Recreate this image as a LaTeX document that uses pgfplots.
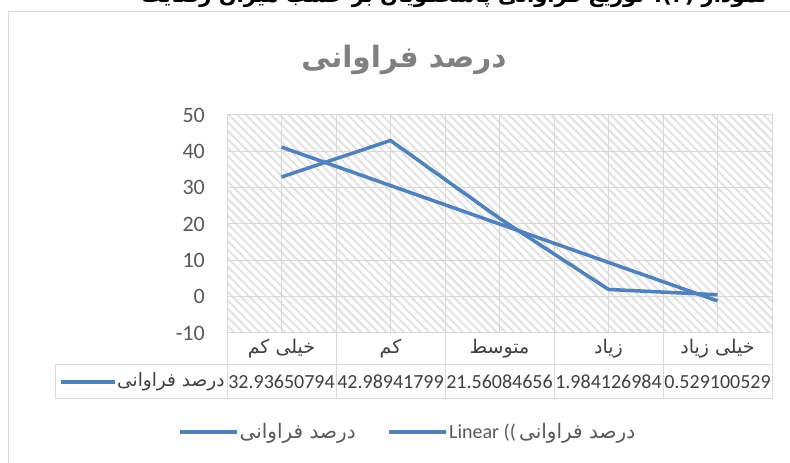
\documentclass[border=0pt]{standalone}
\usepackage{fontspec}
\setmainfont{Carlito}
\newfontfamily\ar[Script=Arabic]{DejaVu Sans}
\TeXXeTstate=1
\usepackage{pgfplots}
\pgfplotsset{compat=1.18}
\usetikzlibrary{patterns.meta}
\definecolor{lineblue}{RGB}{79,129,189}
\definecolor{gridgray}{RGB}{217,217,217}
\definecolor{hatchgray}{RGB}{226,226,226}
\definecolor{txtgray}{RGB}{89,89,89}
\definecolor{titlegray}{RGB}{128,128,128}
\definecolor{dark}{RGB}{64,64,64}
\begin{document}
\begin{tikzpicture}[x=1pt,y=1pt]
\useasboundingbox (0,0) rectangle (790,463);
\clip (0,0) rectangle (790,463);
\fill[white] (0,0) rectangle (790,463);
\draw[gridgray, line width=1pt] (8,-5) -- (8,451) -- (795,451);
\node[anchor=base, font=\ar\bfseries\fontsize{21}{25}\selectfont, text=black] at (454,460) {\beginR نمودار (۴): توزیع فراوانی پاسخگویان بر حسب میزان رضایت\endR};
\node[font=\ar\bfseries\fontsize{29.5}{35}\selectfont, text=titlegray] at (404,403) {\beginR درصد فراوانی\endR};
\begin{axis}[
  at={(227pt,130pt)}, anchor=south west,
  scale only axis, width=545pt, height=218pt,
  xmin=-0.5, xmax=4.5, ymin=-10, ymax=50,
  xtick={0,1,2,3,4}, minor xtick={-0.5,0.5,1.5,2.5,3.5,4.5},
  ytick={-10,0,10,20,30,40,50}, yticklabels={-10,0,10,20,30,40,50},
  xticklabels={{\beginR خیلی کم\endR},{\beginR کم\endR},{\beginR متوسط\endR},{\beginR زیاد\endR},{\beginR خیلی زیاد\endR}},
  grid=both,
  major grid style={gridgray, line width=1pt},
  minor grid style={gridgray, line width=1pt},
  major tick length=0pt, minor tick length=0pt,
  axis line style={gridgray, line width=1pt},
  axis background/.style={pattern={Lines[angle=-45,distance=6pt,line width=2pt]}, pattern color=hatchgray},
  yticklabel style={font=\fontsize{22}{26}\selectfont, text=txtgray, anchor=east, inner sep=0pt, xshift=-22pt},
  xticklabel style={font=\ar\fontsize{19}{22}\selectfont, text=dark, anchor=center, inner sep=0pt, yshift=-16pt},
  clip=false,
  legend columns=2,
  legend image code/.code={\draw[#1] (0pt,0pt) -- (57pt,0pt);},
  legend style={at={(-0.0899,-0.454)}, anchor=west, draw=none, fill=none, inner sep=0pt,
    font=\fontsize{20}{24}\selectfont, text=txtgray,
    nodes={inner sep=1pt},
    /tikz/every even column/.append style={column sep=31pt}},
]
\addplot[lineblue, line width=3.5pt, line join=round] coordinates {(0,32.93650794) (1,42.98941799) (2,21.56084656) (3,1.984126984) (4,0.529100529)};
\addlegendentry{{\ar\beginR درصد فراوانی\endR}}
\addplot[lineblue, line width=3.5pt, line join=round] coordinates {(0,41.164) (1,30.582) (2,20.000) (3,9.418) (4,-1.164)};
\addlegendentry{Linear ((\,{\ar\beginR درصد فراوانی\endR}}
\end{axis}
% data table
\begin{scope}[gridgray, line width=1pt]
\draw (55,98) -- (772,98);
\draw (55,64) -- (772,64);
\draw (55,98) -- (55,64);
\foreach \x in {227,336,445,554,663,772} {\draw (\x,130) -- (\x,64);}
\end{scope}
\draw[lineblue, line width=3.5pt] (61,81) -- (115,81);
\node[anchor=west, font=\ar\fontsize{18.5}{22}\selectfont, text=dark, inner sep=0pt] at (117,81) {\beginR درصد فراوانی\endR};
\begin{scope}[font=\fontsize{20}{24}\selectfont, text=dark]
\node at (281.5,81) {32.93650794};
\node at (390.5,81) {42.98941799};
\node at (499.5,81) {21.56084656};
\node at (608.5,81) {1.984126984};
\node at (717.5,81) {0.529100529};
\end{scope}
\end{tikzpicture}
\end{document}
